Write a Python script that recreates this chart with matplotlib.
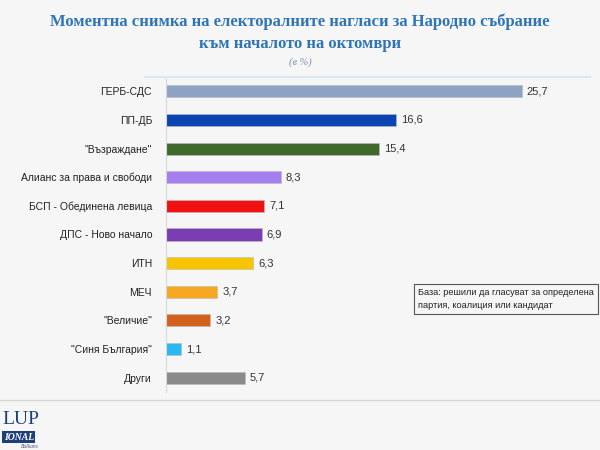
import matplotlib
matplotlib.use("Agg")
import matplotlib.pyplot as plt
from matplotlib.lines import Line2D

parties = ["ГЕРБ-СДС", "ПП-ДБ", "\"Възраждане\"", "Алианс за права и свободи",
           "БСП - Обединена левица", "ДПС - Ново начало", "ИТН", "МЕЧ",
           "\"Величие\"", "\"Синя България\"", "Други"]
values = [25.7, 16.6, 15.4, 8.3, 7.1, 6.9, 6.3, 3.7, 3.2, 1.1, 5.7]
colors = ["#8ea3c4", "#0b45b3", "#3f6a2c", "#a57ef0", "#f01212", "#7a3eb2",
          "#f6c400", "#f7a823", "#d2611c", "#2bb8f2", "#8a8a8a"]

plt.rcParams["font.family"] = ["Liberation Sans", "DejaVu Sans"]
BG = "#f6f6f6"
SERIF = ["Liberation Serif", "DejaVu Serif"]

fig = plt.figure(figsize=(6, 4.5), dpi=100, facecolor=BG)
ax = fig.add_axes([166 / 600, 1 - 392 / 450, 434 / 600, 315 / 450])
ax.set_facecolor(BG)

ypos = list(range(len(parties)))
ax.barh(ypos, values, height=0.42, color=colors, edgecolor="#bbbbbb", linewidth=0.4)
for y, v in zip(ypos, values):
    ax.text(v + 0.35, y, f"{v:.1f}".replace(".", ","), va="center", ha="left",
            fontsize=8, color="#333333")

ax.set_xlim(0, 434 / 13.85)
ax.set_ylim(len(parties) - 0.5, -0.5)
ax.set_yticks(ypos)
ax.set_yticklabels(parties, fontsize=7.5, color="#222222")
ax.tick_params(axis="y", length=0, pad=10)
ax.set_xticks([])
for s in ["top", "right", "bottom"]:
    ax.spines[s].set_visible(False)
ax.spines["left"].set_color("#d8d8d8")
ax.spines["left"].set_linewidth(0.8)

# title
fig.text(0.5, 1 - 22 / 450, "Моментна снимка на електоралните нагласи за Народно събрание",
         ha="center", va="center", fontsize=12, fontweight="bold", color="#2e74b6",
         family=SERIF)
fig.text(0.5, 1 - 44 / 450, "към началото на октомври",
         ha="center", va="center", fontsize=12, fontweight="bold", color="#2e74b6",
         family=SERIF)
fig.text(0.5, 1 - 62 / 450, "(в %)", ha="center", va="center", fontsize=7.5,
         style="italic", color="#8090aa", family=SERIF)

# decorative lines
fig.add_artist(Line2D([145 / 600, 590 / 600], [1 - 77 / 450, 1 - 77 / 450],
                      color="#dbe9f6", linewidth=1.5))
fig.add_artist(Line2D([0, 1], [1 - 400 / 450, 1 - 400 / 450],
                      color="#d6d6d6", linewidth=1))

# note box
fig.text(418 / 600, 1 - 299 / 450,
         "База: решили да гласуват за определена\nпартия, коалиция или кандидат",
         ha="left", va="center", fontsize=6.6, color="#222222", linespacing=1.6,
         bbox=dict(boxstyle="square,pad=0.45", facecolor=BG, edgecolor="#555555",
                   linewidth=0.8))

# logo fragment
fig.text(0.004, 1 - 420 / 450, "LUP", ha="left", va="center", fontsize=14,
         color="#1f3f7a", family=SERIF)
fig.text(0.006, 1 - 437 / 450, "IONAL", ha="left", va="center", fontsize=7,
         fontweight="bold", style="italic", color="white", family=SERIF,
         bbox=dict(boxstyle="square,pad=0.15", facecolor="#1f3f7a", edgecolor="none"))
fig.text(0.05, 1 - 446 / 450, "Balkans", ha="center", va="center", fontsize=4,
         style="italic", color="#445577", family=SERIF)

fig.savefig("out.png", dpi=100, facecolor=BG)
